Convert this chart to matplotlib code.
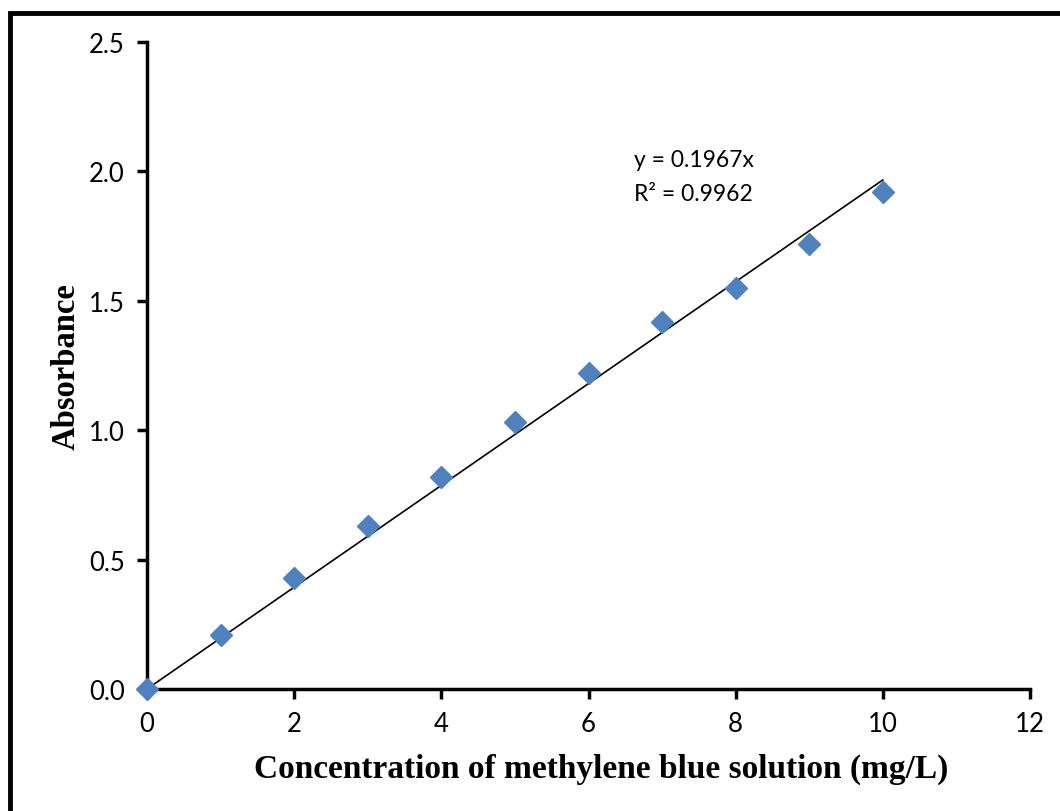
import matplotlib

matplotlib.use("Agg")

import matplotlib.pyplot as plt
from matplotlib.patches import Rectangle

# methylene blue calibration data
concentration = [0, 1, 2, 3, 4, 5, 6, 7, 8, 9, 10]
absorbance = [0.0, 0.21, 0.43, 0.63, 0.82, 1.03, 1.22, 1.42, 1.55, 1.72, 1.92]
slope = 0.1967
r_squared = 0.9962
x_ticks = [0, 2, 4, 6, 8, 10, 12]
y_ticks = [0.0, 0.5, 1.0, 1.5, 2.0, 2.5]

tick_font = "Lato"
label_font = "Liberation Serif"

fig = plt.figure(figsize=(10.6, 8.12), dpi=100)
ax = fig.add_axes([147 / 1060, 1 - 690 / 812, (1030 - 147) / 1060, (690 - 43) / 812])

# outer frame (only left and top edges fall inside the image)
fig.patches.append(Rectangle((10 / 1060, -0.1), 1.2, 1.1 - 13.5 / 812,
                             transform=fig.transFigure, fill=False,
                             edgecolor="black", linewidth=3.5, clip_on=False))

fit_x = [concentration[0], concentration[-1]]
fit_y = [slope * v for v in fit_x]
ax.plot(fit_x, fit_y, color="black", linewidth=1.2, zorder=2)
ax.plot(concentration, absorbance, linestyle="none", marker="D", markersize=11.5,
        color="#4F81BD", markeredgecolor="#4F81BD", zorder=3, clip_on=False)

ax.text(6.62, 1.98, f"y = {slope}x\nR² = {r_squared}", fontsize=16.5,
        family=tick_font, linespacing=1.75, va="center", ha="left")

ax.set_xlim(0, 12)
ax.set_ylim(0, 2.5)
ax.set_xticks(x_ticks)
ax.set_yticks(y_ticks)
ax.set_xticklabels([str(t) for t in x_ticks], family=tick_font, fontsize=18.5)
ax.set_yticklabels([f"{t:.1f}" for t in y_ticks], family=tick_font, fontsize=18.5)

for side in ("top", "right"):
    ax.spines[side].set_visible(False)
for side in ("left", "bottom"):
    ax.spines[side].set_linewidth(2.5)
ax.tick_params(direction="out", length=7, width=2.5, pad=9)

ax.set_xlabel("Concentration of methylene blue solution (mg/L)", family=label_font,
              fontweight="bold", fontsize=24)
ax.set_ylabel("Absorbance", family=label_font, fontweight="bold", fontsize=23.5)
ax.xaxis.set_label_coords(0.5145, -0.099)
ax.yaxis.set_label_coords(-0.074, 0.5)

fig.savefig("out.png", dpi=100)
